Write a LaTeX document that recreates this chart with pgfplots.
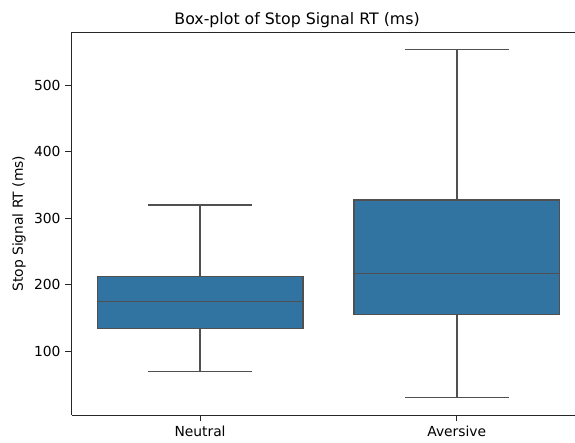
\documentclass[border=0pt]{standalone}
\usepackage{fontspec}
\setmainfont{DejaVu Sans}
\usepackage{pgfplots}
\pgfplotsset{compat=1.18}
\definecolor{boxblue}{HTML}{3274A1}
\definecolor{linegray}{HTML}{505050}
\begin{document}
\begin{tikzpicture}
\path[use as bounding box] (-51.62bp,-20.16bp) rectangle (362.38bp,298.8bp);
\begin{axis}[
  name=ax,
  at={(0,0)}, anchor=south west,
  scale only axis,
  width=362.4bp, height=275.5bp,
  xmin=-0.5, xmax=1.4607,
  ymin=4.4, ymax=579.5,
  axis lines=left,
  axis line style={-, draw=black!85, line width=0.6bp},
  xtick={0,1}, xticklabels={Neutral,Aversive},
  ytick={100,200,300,400,500},
  tick align=outside,
  major tick length=4.6bp,
  tick style={draw=black!85, line width=0.6bp},
  tick label style={font=\fontsize{10}{12}\selectfont},
  /pgf/number format/assume math mode=true,
  ylabel={Stop Signal RT (ms)},
  ylabel style={at={(axis description cs:-0.1047,0.5)}, anchor=center, font=\fontsize{10}{12}\selectfont},
  title={Box-plot of Stop Signal RT (ms)},
  title style={at={(axis description cs:0.4477,1)}, anchor=base, yshift=-0.3bp, font=\fontsize{11.4}{13.7}\selectfont},
  bx/.style={draw=linegray, line width=1.1bp, mark=none, solid},
]
% Neutral: lower whisker 69.5, Q1 134.7, median 174.7, Q3 212.3, upper whisker 320
\addplot[bx] coordinates {(0,69.5) (0,134.7)};
\addplot[bx] coordinates {(0,212.3) (0,320)};
\addplot[bx] coordinates {(-0.2025,69.5) (0.2025,69.5)};
\addplot[bx] coordinates {(-0.2025,320) (0.2025,320)};
\addplot[bx, fill=boxblue] coordinates {(-0.4,134.7) (0.4,134.7) (0.4,212.3) (-0.4,212.3)} -- cycle;
\addplot[bx] coordinates {(-0.4,174.7) (0.4,174.7)};
% Aversive: lower whisker 31, Q1 155.7, median 217.4, Q3 327.5, upper whisker 554
\addplot[bx] coordinates {(1,31) (1,155.7)};
\addplot[bx] coordinates {(1,327.5) (1,554)};
\addplot[bx] coordinates {(0.7975,31) (1.2025,31)};
\addplot[bx] coordinates {(0.7975,554) (1.2025,554)};
\addplot[bx, fill=boxblue] coordinates {(0.6,155.7) (1.4,155.7) (1.4,327.5) (0.6,327.5)} -- cycle;
\addplot[bx] coordinates {(0.6,217.4) (1.4,217.4)};
\end{axis}
\draw[black!85, line width=0.6bp] (ax.north west) -- (ax.north east);
\end{tikzpicture}
\end{document}
